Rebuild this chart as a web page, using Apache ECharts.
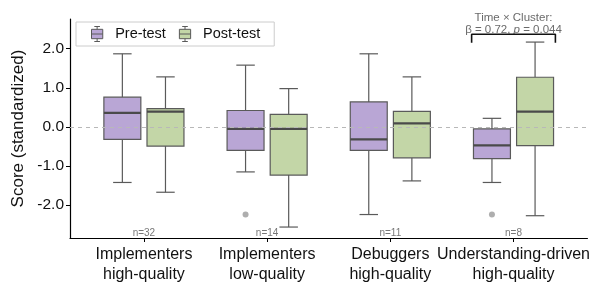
<!DOCTYPE html>
<html>
<head>
<meta charset="utf-8">
<script src="https://cdn.jsdelivr.net/npm/echarts@6/dist/echarts.min.js"></script>
<style>
  html, body { margin: 0; padding: 0; background: #fff; }
  #chart { width: 593px; height: 285px; }
</style>
</head>
<body>
<div id="chart"></div>
<script>
// clusters on the x axis
const categories = ['Implementers\nhigh-quality', 'Implementers\nlow-quality', 'Debuggers\nhigh-quality', 'Understanding-driven\nhigh-quality'];
const groupSizes = [32, 14, 11, 8];

// [whisker low, Q1, median, Q3, whisker high]
const preStats = [
    [-1.42, -0.32, 0.36, 0.76, 1.87],
    [-1.15, -0.60, -0.05, 0.42, 1.58],
    [-2.24, -0.60, -0.32, 0.64, 1.87],
    [-1.42, -0.81, -0.47, -0.05, 0.22]
];
const postStats = [
    [-1.67, -0.49, 0.39, 0.47, 1.28],
    [-2.56, -1.23, -0.05, 0.32, 0.98],
    [-1.38, -0.79, 0.09, 0.40, 1.28],
    [-2.27, -0.48, 0.39, 1.27, 2.17]
];
// outliers: [category index (1-based), group (0 pre / 1 post), value]
const outliers = [
    [2, 0, -2.24],
    [4, 0, -2.24]
];

const yTicks = [-2, -1, 0, 1, 2];
const bracket = [[3.66, 2.15], [3.66, 2.37], [4.34, 2.37], [4.34, 2.15]];

const dodge = 0.175;
const boxW = 0.3;
const fontFam = 'Liberation Sans, Arial, sans-serif';
const colors = ['#b9a6d5', '#c3d6a7'];

function boxData(stats) {
    return stats.map(function (s, i) { return [i + 1].concat(s); });
}

function makeRender(off, fill) {
    return function (params, api) {
        const x = api.value(0) + off;
        const lo = api.coord([x, api.value(1)]);
        const q1 = api.coord([x, api.value(2)]);
        const md = api.coord([x, api.value(3)]);
        const q3 = api.coord([x, api.value(4)]);
        const hi = api.coord([x, api.value(5)]);
        const w = api.size([boxW, 0])[0];
        const cx = q1[0];
        const stroke = { stroke: '#5a5a5a', lineWidth: 1.2 };
        return {
            type: 'group',
            children: [
                { type: 'line', shape: { x1: cx, y1: hi[1], x2: cx, y2: q3[1] }, style: stroke },
                { type: 'line', shape: { x1: cx, y1: q1[1], x2: cx, y2: lo[1] }, style: stroke },
                { type: 'line', shape: { x1: cx - w / 4, y1: hi[1], x2: cx + w / 4, y2: hi[1] }, style: stroke },
                { type: 'line', shape: { x1: cx - w / 4, y1: lo[1], x2: cx + w / 4, y2: lo[1] }, style: stroke },
                { type: 'rect', shape: { x: cx - w / 2, y: q3[1], width: w, height: q1[1] - q3[1] },
                  style: { fill: fill, stroke: '#5a5a5a', lineWidth: 1.2 } },
                { type: 'line', shape: { x1: cx - w / 2, y1: md[1], x2: cx + w / 2, y2: md[1] },
                  style: { stroke: '#4a4a4a', lineWidth: 2.2 } }
            ]
        };
    };
}

const boxIcon = 'path://M3,0 L9,0 M6,0 L6,3 M0,3 L12,3 L12,13 L0,13 Z M0,8 L12,8 M6,13 L6,16 M3,16 L9,16';

let chart = echarts.init(document.getElementById('chart'));

let option = {
    animation: false,
    textStyle: { fontFamily: fontFam },
    grid: { left: 70, right: 2, top: 19, bottom: 46 },
    legend: {
        left: 76,
        top: 22,
        padding: [4, 14, 4, 15],
        borderColor: '#cccccc',
        borderWidth: 1,
        itemWidth: 14,
        itemHeight: 15,
        itemGap: 13,
        textStyle: { fontSize: 14.5, color: '#111', fontFamily: fontFam, padding: [0, 0, 0, 6] },
        data: [
            { name: 'Pre-test', icon: boxIcon, itemStyle: { color: colors[0], borderColor: '#5a5a5a', borderWidth: 1 } },
            { name: 'Post-test', icon: boxIcon, itemStyle: { color: colors[1], borderColor: '#5a5a5a', borderWidth: 1 } }
        ]
    },
    xAxis: {
        type: 'value',
        min: 0.4,
        max: 4.6,
        splitLine: { show: false },
        axisLine: { show: true, onZero: false, lineStyle: { color: '#000', width: 1.2 } },
        axisTick: { show: true, length: 4, customValues: [1, 2, 3, 4], lineStyle: { color: '#000' } },
        axisLabel: {
            customValues: [1, 2, 3, 4],
            formatter: function (v) { return categories[Math.round(v) - 1]; },
            fontSize: 16,
            lineHeight: 20,
            color: '#111',
            margin: 7
        }
    },
    yAxis: {
        type: 'value',
        min: -2.84,
        max: 2.76,
        name: 'Score (standardized)',
        nameLocation: 'middle',
        nameGap: 38,
        nameTextStyle: { fontSize: 17, color: '#111' },
        splitLine: { show: false },
        axisLine: { show: true, onZero: false, lineStyle: { color: '#000', width: 1.2 } },
        axisTick: { show: true, length: 4, customValues: yTicks, lineStyle: { color: '#000' } },
        axisLabel: {
            customValues: yTicks,
            formatter: function (v) { return v.toFixed(1); },
            fontSize: 15.5,
            color: '#111',
            margin: 6
        }
    },
    series: [
        {
            name: 'Pre-test',
            type: 'custom',
            itemStyle: { color: colors[0] },
            renderItem: makeRender(-dodge, colors[0]),
            encode: { x: 0, y: [1, 2, 3, 4, 5] },
            data: boxData(preStats),
            markLine: {
                silent: true,
                symbol: 'none',
                label: { show: false },
                lineStyle: { type: [4, 4], color: '#b8b8b8', width: 1 },
                data: [{ yAxis: 0 }],
                z: 10
            }
        },
        {
            name: 'Post-test',
            type: 'custom',
            itemStyle: { color: colors[1] },
            renderItem: makeRender(dodge, colors[1]),
            encode: { x: 0, y: [1, 2, 3, 4, 5] },
            data: boxData(postStats)
        },
        {
            name: 'outliers',
            type: 'scatter',
            symbolSize: 6,
            itemStyle: { color: '#9a9a9a' },
            data: outliers.map(function (o) { return [o[0] + (o[1] === 0 ? -dodge : dodge), o[2]]; })
        },
        {
            name: 'n',
            type: 'scatter',
            symbolSize: 0,
            silent: true,
            label: {
                show: true,
                position: 'inside',
                fontSize: 10,
                color: '#555',
                formatter: function (p) { return 'n=' + groupSizes[p.dataIndex]; }
            },
            data: groupSizes.map(function (n, i) { return [i + 1, -2.72]; })
        },
        {
            name: 'bracket',
            type: 'line',
            symbol: 'none',
            silent: true,
            lineStyle: { color: '#111', width: 1.6 },
            data: bracket
        },
        {
            name: 'stat',
            type: 'scatter',
            symbolSize: 0,
            silent: true,
            label: {
                show: true,
                position: 'inside',
                color: '#444',
                fontSize: 11.5,
                lineHeight: 12,
                formatter: 'Time × Cluster:\nβ = 0.72, {i|p} = 0.044',
                rich: { i: { fontStyle: 'italic', fontSize: 11.5, color: '#444' } }
            },
            data: [[4, 2.63]]
        }
    ]
};

chart.setOption(option);
</script>
</body>
</html>
